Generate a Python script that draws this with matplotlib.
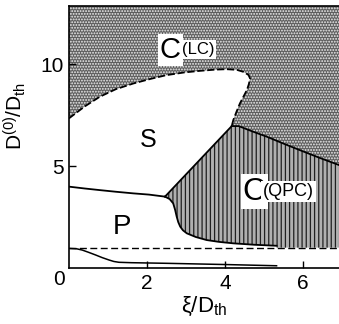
import matplotlib
matplotlib.use("Agg")
from matplotlib import pyplot as plt

plt.rcParams['font.family'] = ['Liberation Sans', 'DejaVu Sans']
plt.rcParams['mathtext.fontset'] = 'custom'
plt.rcParams['mathtext.rm'] = 'Liberation Sans'
plt.rcParams['mathtext.it'] = 'Liberation Sans'
plt.rcParams['mathtext.fallback'] = 'cm'

# boundary C(LC) / S (upper lobe, then its dashed right edge)
lc_x = [0.0, 0.40, 0.79, 1.20, 1.65, 2.10, 2.50, 2.95, 3.36, 3.75, 4.04, 4.30, 4.47, 4.60, 4.64, 4.61, 4.56, 4.47, 4.38, 4.29, 4.21, 4.17]
lc_y = [7.34, 7.92, 8.40, 8.77, 9.05, 9.28, 9.46, 9.59, 9.67, 9.73, 9.75, 9.72, 9.62, 9.47, 9.30, 9.02, 8.73, 8.40, 8.07, 7.65, 7.25, 6.96]

# boundary C(LC) / C(QPC)
top_x = [4.17, 4.35, 4.70, 5.07, 5.50, 5.92, 6.40, 6.92]
top_y = [6.96, 6.96, 6.70, 6.44, 6.10, 5.78, 5.42, 5.05]

# boundary S / P
sp_x = [0.0, 0.40, 0.79, 1.20, 1.65, 2.05, 2.46]
sp_y = [3.99, 3.90, 3.82, 3.74, 3.66, 3.60, 3.50]

# boundary S / C(QPC)
sq_x = [2.46, 4.17]
sq_y = [3.50, 6.96]

# boundary P / C(QPC)
pq_x = [2.46, 2.58, 2.67, 2.72, 2.76, 2.80, 2.85, 2.92, 3.02, 3.25, 3.53, 3.85, 4.21, 4.75, 5.32]
pq_y = [3.50, 3.38, 3.17, 2.85, 2.52, 2.25, 2.03, 1.85, 1.70, 1.52, 1.37, 1.28, 1.21, 1.14, 1.09]

# dashed threshold line
thr_y = 1.0

# lower solid curve
low_x = [0.0, 0.20, 0.34, 0.50, 0.68, 0.85, 1.03, 1.15, 1.28, 1.60, 2.50, 4.00, 5.32]
low_y = [0.96, 0.94, 0.88, 0.77, 0.64, 0.51, 0.39, 0.32, 0.28, 0.26, 0.23, 0.17, 0.11]

xmax, ymax = 6.92, 12.85

fig = plt.figure(figsize=(3.39, 3.24), dpi=100)
ax = fig.add_axes([69 / 339, 56 / 324, 270 / 339, 262 / 324])
ax.set_xlim(0, xmax)
ax.set_ylim(0, ymax)

# C(LC) region: stippled
lc_poly_x = lc_x + top_x[1:] + [xmax, 0.0]
lc_poly_y = lc_y + top_y[1:] + [ymax, ymax]
plt.rcParams['hatch.linewidth'] = 0.9
ax.fill(lc_poly_x, lc_poly_y, facecolor='#5e5e5e', edgecolor='#f0f0f0',
        hatch='......', linewidth=0, zorder=1)

# C(QPC) region: vertical lines
q_x = sq_x + top_x[1:] + [xmax, pq_x[-1]] + pq_x[::-1]
q_y = sq_y + top_y[1:] + [thr_y, thr_y] + pq_y[::-1]
ax.fill(q_x, q_y, facecolor='#b0b0b0', edgecolor='#202020',
        hatch='||||', linewidth=0, zorder=1)

lw = 1.3
ax.plot(lc_x, lc_y, color='k', lw=lw, ls=(0, (4, 1.5)), zorder=3)
ax.plot(top_x, top_y, color='k', lw=lw, zorder=3)
ax.plot(sp_x, sp_y, color='k', lw=lw, zorder=3)
ax.plot(sq_x, sq_y, color='k', lw=lw, zorder=3)
ax.plot(pq_x, pq_y, color='k', lw=lw, zorder=3)
ax.axhline(thr_y, color='k', lw=1.0, ls=(0, (5, 2.5)), zorder=3)
ax.plot(low_x, low_y, color='k', lw=1.1, zorder=3)

box = dict(facecolor='white', edgecolor='none', pad=1.5)
ax.text(2.6, 10.7, 'C', fontsize=21, ha='center', va='center', bbox=box, zorder=4)
ax.text(3.3, 10.7, '(LC)', fontsize=12, ha='center', va='center', bbox=box, zorder=4)
ax.text(4.75, 3.75, 'C', fontsize=23, ha='center', va='center', bbox=box, zorder=4)
ax.text(5.62, 3.75, '(QPC)', fontsize=13, ha='center', va='center', bbox=box, zorder=4)
ax.text(2.03, 6.3, 'S', fontsize=18, ha='center', va='center', zorder=4)
ax.text(1.36, 2.0, 'P', fontsize=20, ha='center', va='center', zorder=4)

ax.set_xticks([2, 4, 6])
ax.set_yticks([5, 10])
ax.tick_params(direction='in', length=5, width=1, labelsize=15, pad=4)
ax.text(-0.25, -0.55, '0', fontsize=15, ha='center', va='center')
ax.spines['right'].set_visible(False)
for s in ['left', 'bottom', 'top']:
    ax.spines[s].set_linewidth(1.2)

ax.set_xlabel(r'$\xi$/D$_{\mathrm{th}}$', fontsize=16, labelpad=2)
ax.set_ylabel(r'D$^{(0)}$/D$_{\mathrm{th}}$', fontsize=15)
ax.yaxis.set_label_coords(-0.15, 0.58)

fig.savefig('out.png', dpi=100)
